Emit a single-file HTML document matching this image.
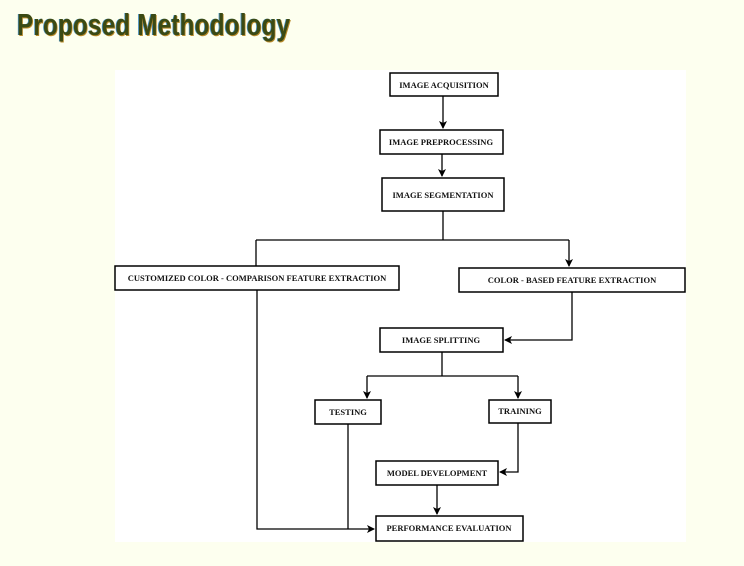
<!DOCTYPE html>
<html><head><style>
body{margin:0;width:744px;height:566px;background:#fdffef;overflow:hidden;position:relative;font-family:"Liberation Serif",serif}
.t{position:absolute;left:17px;top:7px;font-family:"Liberation Sans",sans-serif;font-weight:bold;font-size:31px;color:#3b4a14;letter-spacing:0.3px;transform:scaleX(0.78);transform-origin:left;text-shadow:1px 1px 0 #b98a2a,-1px 0 0 #4a90c0;white-space:nowrap}
</style></head><body>
<div class="t">Proposed Methodology</div>
<svg width="744" height="566" style="position:absolute;left:0;top:0">
<defs><marker id="a" markerWidth="8" markerHeight="8" refX="7" refY="4" orient="auto" markerUnits="userSpaceOnUse"><path d="M0,0 L8,4 L0,8 L2,4 Z" fill="#000"/></marker></defs>
<rect x="115" y="70" width="571" height="472" fill="#fff"/>
<g fill="#fff" stroke="#000" stroke-width="1.5">
<rect x="390" y="73" width="108" height="23"/>
<rect x="380" y="130" width="123" height="24"/>
<rect x="382" y="178" width="122" height="33"/>
<rect x="115" y="266" width="284" height="24"/>
<rect x="459" y="268" width="226" height="24"/>
<rect x="380" y="328" width="123" height="24"/>
<rect x="315" y="400" width="66" height="24"/>
<rect x="489" y="400" width="62" height="23"/>
<rect x="376" y="461" width="122" height="24"/>
<rect x="376" y="516" width="147" height="25"/>
</g>
<g fill="none" stroke="#000" stroke-width="1.3">
<path d="M443 96 V128" marker-end="url(#a)"/>
<path d="M442 154 V176" marker-end="url(#a)"/>
<path d="M443 211 V240 M256 240 H569 M256 240 V266"/>
<path d="M569 240 V266" marker-end="url(#a)"/>
<path d="M572 292 V340 H505" marker-end="url(#a)"/>
<path d="M442 352 V376 M367 376 H518"/>
<path d="M367 376 V398" marker-end="url(#a)"/>
<path d="M518 376 V398" marker-end="url(#a)"/>
<path d="M518 423 V472 H500" marker-end="url(#a)"/>
<path d="M437 485 V514" marker-end="url(#a)"/>
<path d="M257 290 V529 H374" marker-end="url(#a)"/>
<path d="M348 424 V529"/>
</g>
<g font-family="Liberation Serif,serif" font-weight="bold" font-size="8.5" text-anchor="middle" fill="#111">
<text x="444" y="88">IMAGE ACQUISITION</text>
<text x="441" y="145">IMAGE PREPROCESSING</text>
<text x="443" y="198">IMAGE SEGMENTATION</text>
<text x="257" y="281">CUSTOMIZED COLOR - COMPARISON FEATURE EXTRACTION</text>
<text x="572" y="283">COLOR - BASED FEATURE EXTRACTION</text>
<text x="441" y="343">IMAGE SPLITTING</text>
<text x="348" y="415">TESTING</text>
<text x="520" y="414">TRAINING</text>
<text x="437" y="476">MODEL DEVELOPMENT</text>
<text x="449" y="531">PERFORMANCE EVALUATION</text>
</g>
</svg>
</body></html>
